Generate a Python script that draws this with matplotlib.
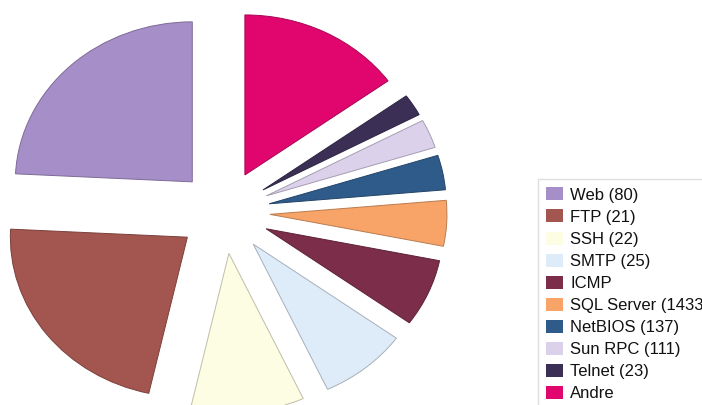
import matplotlib.pyplot as plt
from matplotlib.colors import to_rgb

plt.rcParams['font.family'] = ['Liberation Sans', 'DejaVu Sans']

# share of traffic per service (percent)
labels = [
    "Web (80)", "FTP (21)", "SSH (22)", "SMTP (25)", "ICMP",
    "SQL Server (1433)", "NetBIOS (137)", "Sun RPC (111)", "Telnet (23)", "Andre",
]
shares = [24.2, 22.3, 10.4, 8.1, 6.8, 4.6, 3.5, 2.9, 2.2, 15.0]
colors = [
    "#a68ec8", "#a3554f", "#fdfde4", "#deebf8", "#7b2d49",
    "#f8a469", "#2f5b8b", "#dcd1eb", "#3b2f56", "#e0066e",
]

EXPLODE = 0.26
CENTER_PX = (224, 212)     # pie centre in the 702x405 picture
RX_PX, RY_PX = 177, 160    # the scan is a bit wider than tall


def darker(c, f=0.75):
    r, g, b = to_rgb(c)
    return (r * f, g * f, b * f)


def main():
    fig = plt.figure(figsize=(7.02, 4.05), dpi=100)
    ax = fig.add_axes([0, 0, 1, 1])

    wedges, _ = ax.pie(
        shares,
        colors=colors,
        explode=[EXPLODE] * len(shares),
        startangle=90,
        counterclock=True,
        wedgeprops=dict(linewidth=0.7),
    )
    for w, c in zip(wedges, colors):
        w.set_edgecolor(darker(c))

    # stretch the pie horizontally like the scanned original
    ax.set_aspect('auto')
    cx, cy = CENTER_PX
    ax.set_xlim(-cx / RX_PX, (702 - cx) / RX_PX)
    ax.set_ylim(-(405 - cy) / RY_PX, cy / RY_PX)
    ax.axis('off')

    # the legend runs off the right edge in the original, so the
    # "SQL Server (1433)" label is clipped there on purpose
    leg = fig.legend(
        wedges, labels,
        loc='upper left',
        bbox_to_anchor=(538 / 702, 1 - 179 / 405),
        borderaxespad=0,
        fontsize=12,
        frameon=True,
        fancybox=False,
        handlelength=1.02,
        handleheight=0.82,
        handletextpad=0.4,
        labelspacing=0.41,
        borderpad=0.5,
    )
    leg.get_frame().set_edgecolor('#d8d8d8')
    leg.get_frame().set_linewidth(1.0)
    for h in leg.legend_handles:
        h.set_edgecolor('none')
    for t in leg.get_texts():
        t.set_color('#111111')

    fig.savefig("out.png", dpi=100)
    plt.close(fig)


if __name__ == "__main__":
    main()
